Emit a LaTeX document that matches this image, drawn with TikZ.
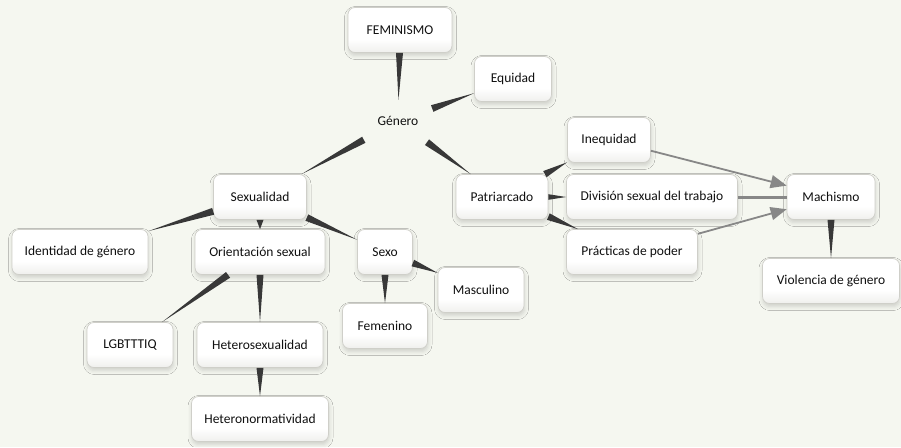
\documentclass[tikz,border=0pt]{standalone}
\usepackage{fontspec}
\setmainfont{Carlito}
\usetikzlibrary{calc,arrows.meta,shadows.blur}

\definecolor{paper}{HTML}{F5F7F0}
\definecolor{ink}{HTML}{101010}
\definecolor{wedgec}{HTML}{383838}
\definecolor{linkgray}{HTML}{878787}
\definecolor{frame}{HTML}{CFCFC9}
\definecolor{boxbot}{HTML}{D6D6CF}
\pgfdeclareverticalshading{boxshade}{100bp}{color(0bp)=(boxbot); color(40bp)=(white); color(100bp)=(white)}

% tapered link: wide at the first node, pointed at the second
\newcommand\taper[3][3.5]{%
  \path (#2) -- (#3) coordinate[pos=0] (tS) coordinate[pos=1] (tE);
  \fill[wedgec] ($(tS)!#1pt!90:(tE)$) -- ($(tS)!#1pt!-90:(tE)$) -- (tE) -- cycle;}

\tikzset{
  concept/.style={draw=frame, line width=0.7pt, rounded corners=7pt,
    shading=boxshade, inner sep=0pt, minimum height=45pt,
    blur shadow={shadow xshift=0.5pt, shadow yshift=-3pt, shadow blur radius=4pt, shadow opacity=16},
    text=ink, font=\fontsize{13.5}{15}\selectfont},
  plainlabel/.style={inner sep=0pt, text=ink, font=\fontsize{13.5}{15}\selectfont},
  graylink/.style={draw=linkgray, line width=1.8pt},
  grayarrow/.style={graylink, -{Triangle[length=16pt,width=13pt]}},
}

\begin{document}
\begin{tikzpicture}[x=1pt,y=-1pt]
\useasboundingbox (0,0) rectangle (901,447);
\fill[paper] (0,0) rectangle (901,447);

% concepts
\node[concept, minimum width=104pt] (fem)   at (400,30)  {FEMINISMO};
\node[concept, minimum width=77pt]  (equ)   at (513,79)  {Equidad};
\node[plainlabel, minimum width=68pt, minimum height=42pt] (gen) at (398,121) {Género};
\node[concept, minimum width=92pt]  (pat)   at (502,197) {Patriarcado};
\node[concept, minimum width=83pt]  (ineq)  at (609,140) {Inequidad};
\node[concept, minimum width=171pt] (div)   at (652,197) {División sexual del trabajo};
\node[concept, minimum width=131pt] (prac)  at (632,252) {Prácticas de poder};
\node[concept, minimum width=88pt]  (mach)  at (831,197) {Machismo};
\node[concept, minimum width=137pt] (viol)  at (831,281) {Violencia de género};
\node[concept, minimum width=93pt]  (sexl)  at (260,197) {Sexualidad};
\node[concept, minimum width=136pt] (iden)  at (80,252)  {Identidad de género};
\node[concept, minimum width=130pt] (ori)   at (260,252) {Orientación sexual};
\node[concept, minimum width=55pt]  (sexo)  at (385,252) {Sexo};
\node[concept, minimum width=86pt]  (masc)  at (481,290) {Masculino};
\node[concept, minimum width=85pt]  (feme)  at (385,326) {Femenino};
\node[concept, minimum width=86pt]  (lgbt)  at (130,345) {LGBTTTIQ};
\node[concept, minimum width=126pt] (het)   at (260,345) {Heterosexualidad};
\node[concept, minimum width=137pt] (hnorm) at (260,419) {Heteronormatividad};

% tapered links
\taper{fem}{gen}
\taper{gen}{equ}
\taper{gen}{sexl}
\taper{gen}{pat}
\taper{pat}{ineq}
\taper[2.8]{pat}{div}
\taper{pat}{prac}
\taper{mach}{viol}
\taper{sexl}{iden}
\taper{sexl}{ori}
\taper{sexl}{sexo}
\taper{ori}{lgbt}
\taper{ori}{het}
\taper{het}{hnorm}
\taper{sexo}{feme}
\taper{sexo}{masc}

% gray links into Machismo
\draw[grayarrow] (ineq) -- (mach);
\draw[graylink, line width=3pt] (div) -- (mach);
\draw[grayarrow] (prac) -- (mach);
\end{tikzpicture}
\end{document}
